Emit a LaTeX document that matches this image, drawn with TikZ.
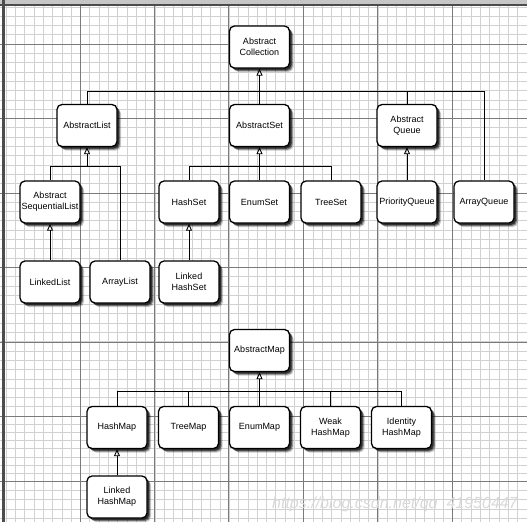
\documentclass[tikz,border=0pt]{standalone}
\usepackage{fontspec}
\setmainfont{Liberation Sans}
\usetikzlibrary{arrows.meta,shadows}
\definecolor{minorgrid}{gray}{0.82}
\definecolor{majorgrid}{gray}{0.48}
\begin{document}
\begin{tikzpicture}[x=1pt,y=-1pt,
  box/.style={draw=black, line width=1.3pt, rounded corners=5pt, fill=white,
    minimum width=60pt, minimum height=42pt, inner sep=1pt, align=center,
    font=\fontsize{9}{10.7}\selectfont,
    drop shadow={shadow xshift=4pt, shadow yshift=-4pt, fill=black, opacity=0.2},
    drop shadow={shadow xshift=3pt, shadow yshift=-3pt, fill=black, opacity=0.4},
    drop shadow={shadow xshift=2pt, shadow yshift=-2pt, fill=black, opacity=0.6}},
  link/.style={draw=black, line width=0.9pt},
  inh/.style={link, -{Triangle[open, length=7pt, width=6pt, line width=0.9pt]}},
  minorline/.style={draw=minorgrid, line width=0.5pt},
  majorline/.style={draw=majorgrid, line width=0.7pt},
]
\useasboundingbox (0,0) rectangle (527,522);
\fill[white] (0,0) rectangle (527,522);
% ---- grid ----
\foreach \i in {0,...,56} {\draw[minorline] ({6+9.3*\i},0) -- ({6+9.3*\i},522);}
\foreach \i in {-4,...,39} {\draw[minorline] (0,{44+9.3*\i}) -- (527,{44+9.3*\i});}
\foreach \i in {1,...,7} {\draw[minorline] (0,{416.5+8.06*\i}) -- (527,{416.5+8.06*\i});}
\foreach \i in {1,...,4} {\draw[minorline] (0,{481+9.3*\i}) -- (527,{481+9.3*\i});}
\foreach \x in {80,154.4,228.8,303.2,377.6,452} {\draw[majorline] (\x,0) -- (\x,522);}
\foreach \y in {44,118.5,193,267.5,342,416.5,481} {\draw[majorline] (0,\y) -- (527,\y);}
% ---- frame ----
\fill[gray!45] (0,0) rectangle (527,4);
\draw[black!70, line width=2pt] (0,5) -- (527,5);
\draw[black!70, line width=3pt] (3,0) -- (3,522);
% ---- watermark ----
\node[font=\fontsize{16}{16}\selectfont\itshape, text=black!15, anchor=base west, inner sep=0pt] (wm) at (272,508) {https://blog.csdn.net/qq\_41950447};
% ---- nodes ----
\node[box] (coll) at (259.5,47) {Abstract\\Collection};
\node[box] (alist) at (87,125.5) {AbstractList};
\node[box] (aset) at (259.5,125.5) {AbstractSet};
\node[box] (aqueue) at (407,125.5) {Abstract\\Queue};
\node[box] (aseq) at (50,202) {Abstract\\SequentialList};
\node[box] (hset) at (189,202) {HashSet};
\node[box] (eset) at (259.5,202) {EnumSet};
\node[box] (tset) at (331,202) {TreeSet};
\node[box] (pqueue) at (407,202) {PriorityQueue};
\node[box] (arrq) at (484,202) {ArrayQueue};
\node[box] (llist) at (50,282) {LinkedList};
\node[box] (alst) at (120,282) {ArrayList};
\node[box] (lhset) at (189,282) {Linked\\HashSet};
\node[box] (amap) at (259.5,350.5) {AbstractMap};
\node[box] (hmap) at (117,427.5) {HashMap};
\node[box] (tmap) at (188.5,427.5) {TreeMap};
\node[box] (emap) at (259.5,427.5) {EnumMap};
\node[box] (wmap) at (330.5,427.5) {Weak\\HashMap};
\node[box] (imap) at (401.5,427.5) {Identity\\HashMap};
\node[box] (lhmap) at (117,497) {Linked\\HashMap};
% ---- bus coordinates ----
\coordinate (b1) at (259.5,91);
\coordinate (b2) at (87,166);
\coordinate (b3) at (259.5,166);
\coordinate (b4) at (259.5,391);
% ---- connectors ----
\draw[link] (alist.north) |- (b1);
\draw[link] (aqueue.north) |- (b1);
\draw[link] (arrq.north) |- (b1);
\draw[inh] (aset.north) -- (coll.south);
\draw[link] (aseq.north) |- (b2);
\draw[link] (alst.north) |- (b2);
\draw[inh] (b2) -- (alist.south);
\draw[link] (hset.north) |- (b3);
\draw[link] (tset.north) |- (b3);
\draw[inh] (eset.north) -- (aset.south);
\draw[inh] (pqueue.north) -- (aqueue.south);
\draw[inh] (llist.north) -- (aseq.south);
\draw[inh] (lhset.north) -- (hset.south);
\draw[link] (hmap.north) |- (b4);
\draw[link] (tmap.north) |- (b4);
\draw[link] (wmap.north) |- (b4);
\draw[link] (imap.north) |- (b4);
\draw[inh] (emap.north) -- (amap.south);
\draw[inh] (lhmap.north) -- (hmap.south);
\end{tikzpicture}
\end{document}
